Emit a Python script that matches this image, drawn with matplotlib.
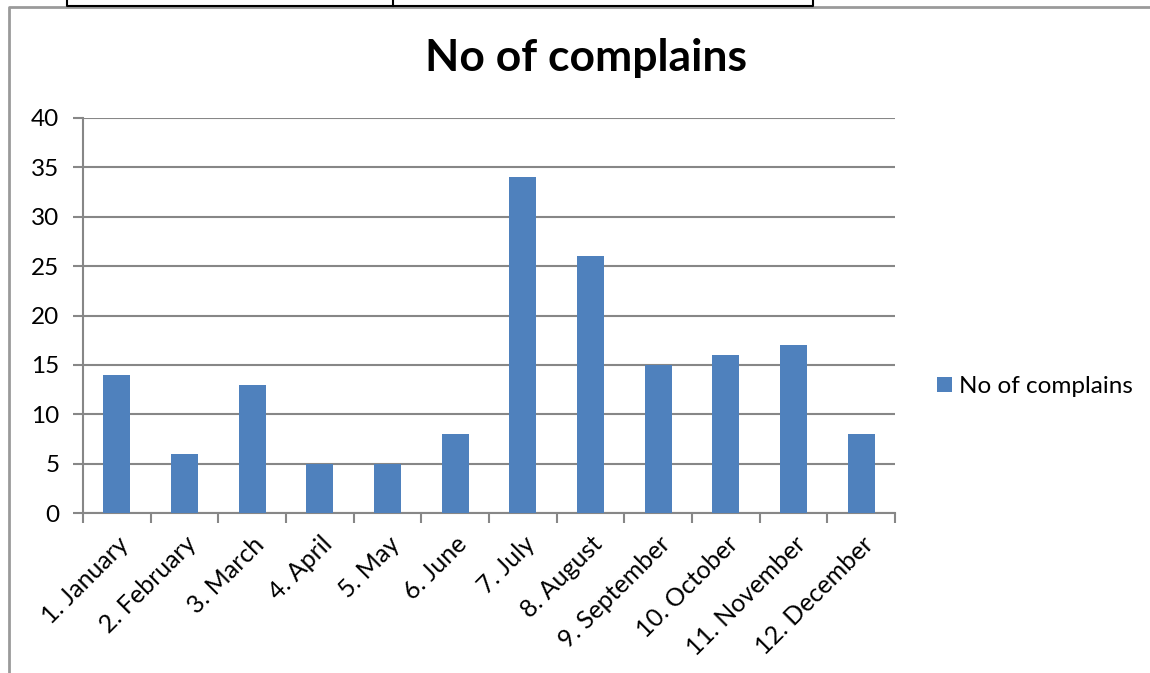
import matplotlib
matplotlib.use("Agg")
import matplotlib.pyplot as plt
from matplotlib.lines import Line2D

plt.rcParams['font.family'] = ['Lato', 'DejaVu Sans']

# data
months = ["1. January", "2. February", "3. March", "4. April", "5. May", "6. June",
          "7. July", "8. August", "9. September", "10. October", "11. November", "12. December"]
complains = [14, 6, 13, 5, 5, 8, 34, 26, 15, 16, 17, 8]
y_ticks = [0, 5, 10, 15, 20, 25, 30, 35, 40]

bar_color = "#4F81BD"
grid_color = "#878787"

fig = plt.figure(figsize=(11.5, 6.73), dpi=100)
ax = fig.add_axes([83 / 1150, 1 - 513 / 673, 812 / 1150, 395 / 673])

x = list(range(len(months)))
ax.bar(x, complains, width=0.4, color=bar_color, label="No of complains", zorder=3)

ax.set_xlim(-0.5, len(months) - 0.5)
ax.set_ylim(0, 40)
ax.set_yticks(y_ticks)
ax.yaxis.grid(True, color=grid_color, linewidth=1.5, zorder=0)

# category ticks sit between the bars
ax.set_xticks([i - 0.5 for i in range(len(months) + 1)])
ax.set_xticklabels([])
ax.set_xticks(x, minor=True)
ax.set_xticklabels(months, minor=True, rotation=45, ha="right", va="top",
                   rotation_mode="anchor", fontsize=18)
ax.tick_params(axis="x", which="minor", length=0, pad=14)
ax.tick_params(axis="x", which="major", length=7, width=1.5, color=grid_color)
ax.tick_params(axis="y", length=7, width=1.5, color=grid_color, labelsize=17.5, pad=10)

for s in ["top", "right"]:
    ax.spines[s].set_visible(False)
ax.spines["left"].set_color(grid_color)
ax.spines["left"].set_linewidth(1.5)
ax.spines["bottom"].set_color(grid_color)
ax.spines["bottom"].set_linewidth(1.5)

fig.text(586 / 1150, 1 - 58 / 673, "No of complains", ha="center", va="center",
         fontsize=32, fontweight="bold")

ax.legend(loc="center left", bbox_to_anchor=(1.025, 0.32), frameon=False,
          fontsize=17.5, handlelength=0.6, handleheight=0.6, handletextpad=0.3)

# frame of the chart and the table edge above it
fig.add_artist(Line2D([9 / 1150, 9 / 1150, 1], [0, 1 - 7 / 673, 1 - 7 / 673],
                      color="#9a9a9a", linewidth=2, transform=fig.transFigure))
fig.add_artist(Line2D([67 / 1150, 67 / 1150, 813 / 1150, 813 / 1150],
                      [1, 1 - 6 / 673, 1 - 6 / 673, 1],
                      color="black", linewidth=1.5, transform=fig.transFigure))
fig.add_artist(Line2D([393 / 1150, 393 / 1150], [1 - 6 / 673, 1],
                      color="black", linewidth=1.5, transform=fig.transFigure))

fig.savefig("out.png", dpi=100)
